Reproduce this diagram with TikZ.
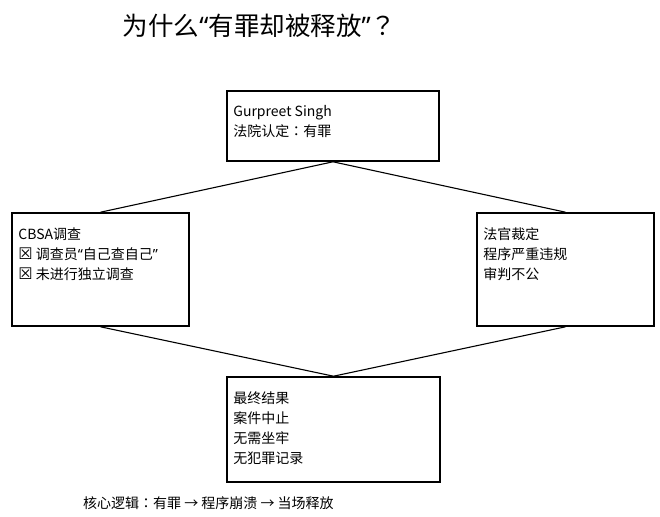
\documentclass[tikz,border=0pt]{standalone}
\usepackage{fontspec}
\setmainfont{Noto Sans CJK SC}
\newfontfamily\symfont{DejaVu Sans}
\newfontfamily\jpfont{Noto Sans CJK JP}
\newfontfamily\latinfont{Noto Sans}
\newcommand\qopen{{\latinfont “}}
\newcommand\qclose{{\latinfont ”}}
\newcommand\fwcolon{{\jpfont ：}}
\newcommand\fwquery{{\jpfont ？}}
\newcommand\xbox{{\symfont\fontsize{16}{20}\selectfont ☒}}
\usetikzlibrary{positioning}

\begin{document}
\begin{tikzpicture}
		[x=1pt,y=-1pt,box/.style={draw,line width=1.6pt,inner sep=0pt},
		txt/.style={align=left,inner sep=0pt,anchor=north west,font=\fontsize{14}{20}\selectfont},
		edge/.style={line width=1.1pt}]
		\useasboundingbox (0,0) rectangle (660,516);
		\node (title) at (259.5,26) {\fontsize{25.5}{30}\selectfont 为什么\qopen 有罪却被释放\qclose\fwquery};
		
		\node[box,minimum width=212pt,minimum height=70pt] (guilty) at (333,126) {};
		\node[box,minimum width=177pt,minimum height=113pt] (cbsa) at (100.5,269.5) {};
		\node[box,minimum width=177pt,minimum height=113pt] (judge) at (565.5,269.5) {};
		\node[box,minimum width=213pt,minimum height=105pt] (result) at (333.5,429.5) {};
		
		\node[txt] (tguilty) at ([shift={(7pt,-15pt)}]guilty.north west) {Gurpreet Singh\\法院认定\fwcolon 有罪};
		\node[txt] (tcbsa) at ([shift={(7pt,-15pt)}]cbsa.north west) {CBSA调查\\\xbox\ 调查员\qopen 自己查自己\qclose\\\xbox\ 未进行独立调查};
		\node[txt] (tjudge) at ([shift={(7pt,-15pt)}]judge.north west) {法官裁定\\程序严重违规\\审判不公};
		\node[txt] (tresult) at ([shift={(7pt,-15pt)}]result.north west) {最终结果\\案件中止\\无需坐牢\\无犯罪记录};
		
		\node[txt,anchor=west] (logic) at (83,503) {核心逻辑\fwcolon 有罪 → 程序崩溃 → 当场释放};
		
		\foreach \from/\to in {guilty/cbsa,guilty/judge,cbsa/result,judge/result}
		\draw[edge] (\from.south) -- (\to.north);
		\end{tikzpicture}
\end{document}
